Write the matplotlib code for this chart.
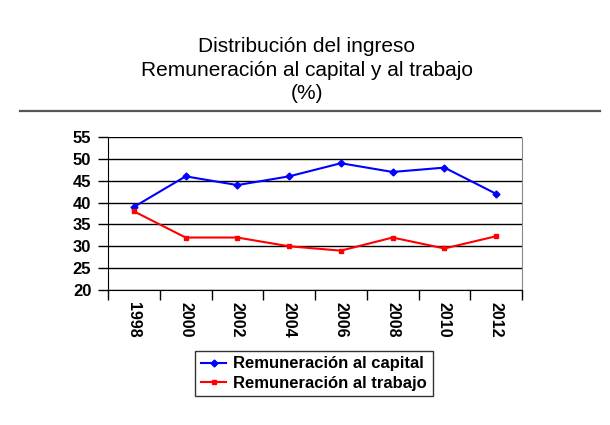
import numpy as np
import matplotlib
matplotlib.use("Agg")
import matplotlib.pyplot as plt
from matplotlib.lines import Line2D

plt.rcParams['font.family'] = ['Liberation Sans', 'DejaVu Sans']

# --- data ---
years = ['1998', '2000', '2002', '2004', '2006', '2008', '2010', '2012']
capital = [39, 46, 44, 46, 49, 47, 48, 42]
trabajo = [38, 32, 32, 30, 29, 32, 29.5, 32.3]

fig = plt.figure(figsize=(6.1, 4.25), dpi=100)

# title block + rule under it
fig.text(0.503, 1 - 70 / 425, 'Distribución del ingreso\nRemuneración al capital y al trabajo\n(%)',
         ha='center', va='center', fontsize=15, linespacing=1.3)
fig.add_artist(Line2D([0.033, 0.984], [1 - 111 / 425] * 2, color='#555555', lw=1.6))

ax = fig.add_axes([108 / 610, 1 - 290 / 425, (522 - 108) / 610, (290 - 137) / 425])
x = np.arange(len(years))
ax.plot(x, capital, color='#0000ff', lw=1.5, marker='D', ms=3.5, label='Remuneración al capital')
ax.plot(x, trabajo, color='#ff0000', lw=1.5, marker='s', ms=3.5, label='Remuneración al trabajo')

ax.set_xlim(-0.5, len(years) - 0.5)
ax.set_ylim(20, 55)
ax.set_yticks(range(20, 56, 5))
ax.yaxis.grid(True, color='black', lw=1)
ax.set_axisbelow(True)

# category axis: ticks on boundaries, labels centred
ax.set_xticks(np.arange(-0.5, len(years), 1.0))
ax.set_xticklabels([])
ax.set_xticks(x, minor=True)
ax.set_xticklabels(years, minor=True, rotation=-90, fontsize=11.5, fontweight='bold')
ax.tick_params(axis='x', which='minor', length=0, pad=9)
ax.tick_params(axis='x', which='major', length=7, width=1, direction='out')
ax.tick_params(axis='y', length=7, width=1, direction='out', pad=5, labelsize=12)
for lbl in ax.get_yticklabels():
    lbl.set_fontweight('bold')

ax.spines['top'].set_visible(False)
ax.spines['right'].set_color('#888888')
ax.spines['right'].set_linestyle((0, (1, 1)))
for s in ['left', 'bottom']:
    ax.spines[s].set_color('black')

leg = fig.legend(loc='center', bbox_to_anchor=(314 / 610, 1 - 373.5 / 425),
                 prop={'weight': 'bold', 'size': 12}, frameon=True, fancybox=False,
                 edgecolor='black', handlelength=1.5, handletextpad=0.4,
                 borderpad=0.35, labelspacing=0.25)
leg.get_frame().set_linewidth(1)

fig.savefig('out.png', dpi=100)
